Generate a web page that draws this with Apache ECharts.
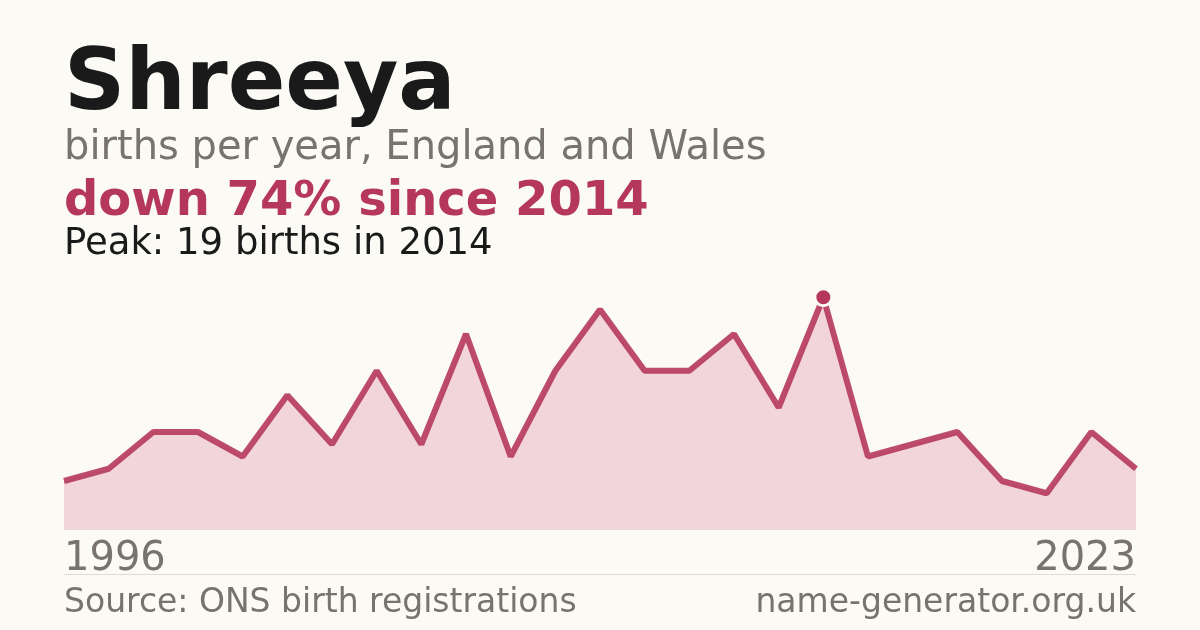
<!DOCTYPE html>
<html>
<head>
<meta charset="utf-8">
<script src="https://cdn.jsdelivr.net/npm/echarts@6/dist/echarts.min.js"></script>
<style>
  html, body { margin: 0; padding: 0; background: #fbfaf5; }
  #chart { width: 1200px; height: 630px; }
</style>
</head>
<body>
<div id="chart"></div>
<script>
// years with a recorded count (years under 3 births are not published)
const years = [1996, 1997, 1998, 1999, 2000, 2001, 2002, 2003, 2004, 2006,
  2007, 2008, 2009, 2010, 2011, 2012, 2013, 2014, 2015, 2016,
  2018, 2019, 2021, 2022, 2023];
const births = [4, 5, 8, 8, 6, 11, 7, 13, 7, 16,
  6, 13, 18, 13, 13, 16, 10, 19, 6, 7,
  8, 4, 3, 8, 5];
const peakYear = 2014;

const red = '#b5385a';
const grey = '#78736c';
const bg = '#fbfaf5';
const font = 'DejaVu Sans';

const chart = echarts.init(document.getElementById('chart'));
const last = years.length - 1;

const seriesData = births.map((v, i) => years[i] === peakYear
  ? { value: v, symbol: 'circle', symbolSize: 17,
      itemStyle: { color: red, borderColor: bg, borderWidth: 3 } }
  : { value: v, symbol: 'none' });

chart.setOption({
  backgroundColor: bg,
  animation: false,
  grid: { left: 64, right: 64, top: 285, bottom: 100 },
  xAxis: {
    type: 'category',
    data: years.map(String),
    boundaryGap: false,
    axisLine: { show: false },
    axisTick: { show: false },
    axisLabel: {
      interval: (i) => i === 0 || i === last,
      alignMinLabel: 'left',
      alignMaxLabel: 'right',
      color: grey,
      fontFamily: font,
      fontSize: 40,
      margin: 10
    }
  },
  yAxis: {
    type: 'value',
    min: 0,
    max: 20,
    show: false,
    splitLine: { show: false }
  },
  series: [{
    type: 'line',
    data: seriesData,
    showAllSymbol: true,
    clip: false,
    lineStyle: { color: red, width: 6, opacity: 0.9 },
    itemStyle: { color: red },
    areaStyle: { color: '#f2d5da', opacity: 1 },
    z: 2
  }],
  graphic: [
    { type: 'text', left: 64, top: 44,
      style: { text: 'Shreeya', fill: '#1a1a1a', font: 'bold 85px "DejaVu Sans"' } },
    { type: 'text', left: 64, top: 129,
      style: { text: 'births per year, England and Wales', fill: grey, font: '40px "DejaVu Sans"' } },
    { type: 'text', left: 64, top: 179,
      style: { text: 'down 74% since 2014', fill: red, font: 'bold 48px "DejaVu Sans"' } },
    { type: 'text', left: 64, top: 226,
      style: { text: 'Peak: 19 births in 2014', fill: '#1a1a1a', font: '37px "DejaVu Sans"' } },
    { type: 'line', shape: { x1: 64, y1: 574.5, x2: 1136, y2: 574.5 },
      style: { stroke: '#dedbd3', lineWidth: 1 } },
    { type: 'text', left: 64, top: 587,
      style: { text: 'Source: ONS birth registrations', fill: grey, font: '33px "DejaVu Sans"' } },
    { type: 'text', right: 64, top: 587,
      style: { text: 'name-generator.org.uk', fill: grey, font: '33px "DejaVu Sans"', align: 'right' } }
  ]
});
</script>
</body>
</html>
